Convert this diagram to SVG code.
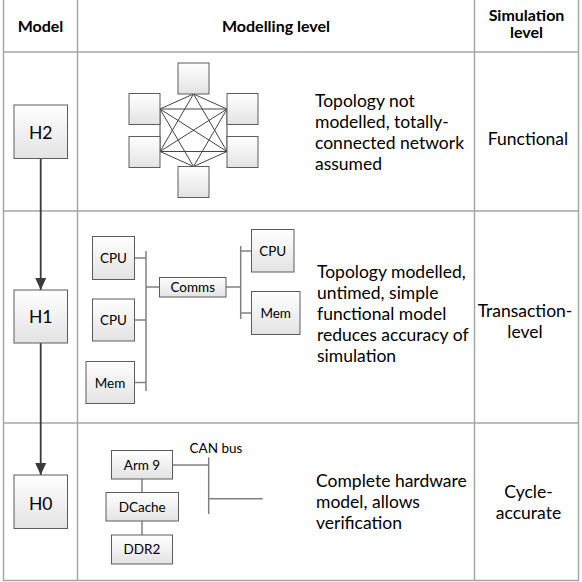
<svg xmlns="http://www.w3.org/2000/svg" width="582" height="582" viewBox="0 0 582 582">
  <defs>
    <linearGradient id="boxFill" x1="0" y1="0" x2="0" y2="1">
      <stop offset="0" stop-color="#ffffff"/>
      <stop offset="1" stop-color="#e3e3e3"/>
    </linearGradient>
    <marker id="arrow" viewBox="0 0 12 12" markerWidth="12" markerHeight="12" refX="12" refY="6" orient="auto" markerUnits="userSpaceOnUse">
      <path d="M0,0.5 L12,6 L0,11.5 z" fill="#3a3a3a"/>
    </marker>
    <style>
      .grid { stroke: #a6a6a6; stroke-width: 1.5; fill: none; }
      .box { fill: url(#boxFill); stroke: #5c5c5c; stroke-width: 1; }
      text { font-family: Lato, "Liberation Sans", sans-serif; fill: #000; }
      .hdr { font-weight: bold; font-size: 16px; text-anchor: middle; }
      .body { font-size: 17.5px; }
      .mid { text-anchor: middle; }
      .lbl { font-size: 13.5px; text-anchor: middle; }
      .big { font-size: 17.5px; text-anchor: middle; }
      .bus { stroke: #808080; stroke-width: 1.5; fill: none; }
      .mesh { stroke: #454545; stroke-width: 1; }
      .flow { stroke: #3a3a3a; stroke-width: 1.8; fill: none; marker-end: url(#arrow); }
    </style>
  </defs>

  <rect width="582" height="582" fill="#ffffff"/>

  <!-- table grid -->
  <g id="table">
    <line class="grid" x1="3.5" y1="0" x2="3.5" y2="580.5"/>
    <line class="grid" x1="77.5" y1="0" x2="77.5" y2="580.5"/>
    <line class="grid" x1="474.5" y1="0" x2="474.5" y2="580.5"/>
    <line class="grid" x1="578.5" y1="0" x2="578.5" y2="580.5"/>
    <line class="grid" x1="3.5" y1="52" x2="578.5" y2="52"/>
    <line class="grid" x1="3.5" y1="211" x2="578.5" y2="211"/>
    <line class="grid" x1="3.5" y1="423" x2="578.5" y2="423"/>
    <line class="grid" x1="3" y1="580.5" x2="579" y2="580.5" stroke="#8c8c8c"/>
  </g>

  <!-- column headings -->
  <g id="headings">
    <text class="hdr" x="40.5" y="31.5">Model</text>
    <text class="hdr" x="276" y="31.5">Modelling level</text>
    <text class="hdr" x="526.5" y="20.5">Simulation</text>
    <text class="hdr" x="526.5" y="38">level</text>
  </g>

  <!-- connectors -->
  <g id="connectors">
    <!-- model refinement arrows -->
    <line class="flow" x1="40.7" y1="158.5" x2="40.7" y2="290"/>
    <line class="flow" x1="40.7" y1="343" x2="40.7" y2="475"/>

    <!-- fully connected mesh -->
    <g class="mesh">
      <line x1="193.5" y1="94" x2="160" y2="109"/>
      <line x1="193.5" y1="94" x2="227" y2="109"/>
      <line x1="193.5" y1="94" x2="160" y2="151.5"/>
      <line x1="193.5" y1="94" x2="227" y2="151.5"/>
      <line x1="160" y1="109" x2="227" y2="109"/>
      <line x1="160" y1="109" x2="227" y2="151.5"/>
      <line x1="160" y1="109" x2="193.5" y2="166.5"/>
      <line x1="160" y1="109" x2="160" y2="151.5"/>
      <line x1="227" y1="109" x2="160" y2="151.5"/>
      <line x1="227" y1="109" x2="193.5" y2="166.5"/>
      <line x1="227" y1="109" x2="227" y2="151.5"/>
      <line x1="160" y1="151.5" x2="227" y2="151.5"/>
      <line x1="160" y1="151.5" x2="193.5" y2="166.5"/>
      <line x1="227" y1="151.5" x2="193.5" y2="166.5"/>
    </g>

    <!-- transaction-level buses -->
    <g class="bus">
      <line x1="146" y1="251" x2="146" y2="391"/>
      <line x1="134.5" y1="258" x2="146" y2="258"/>
      <line x1="134.5" y1="320" x2="146" y2="320"/>
      <line x1="134.5" y1="382.5" x2="146" y2="382.5"/>
      <line x1="146" y1="287" x2="159.5" y2="287"/>
      <line x1="226" y1="287" x2="240.7" y2="287"/>
      <line x1="240.7" y1="246" x2="240.7" y2="319"/>
      <line x1="240.7" y1="251" x2="251.5" y2="251"/>
      <line x1="240.7" y1="313" x2="251.5" y2="313"/>
    </g>

    <!-- cycle-accurate platform -->
    <g class="bus">
      <line x1="142" y1="479" x2="142" y2="492.5"/>
      <line x1="142" y1="521" x2="142" y2="535"/>
      <line x1="172.5" y1="465" x2="208.7" y2="465"/>
      <line x1="208.7" y1="457.3" x2="208.7" y2="514"/>
      <line x1="208.7" y1="498.7" x2="262.7" y2="498.7"/>
    </g>
  </g>

  <!-- model nodes -->
  <g id="H2">
    <rect class="box" x="14" y="105" width="53.5" height="53.5"/>
    <text class="big" x="40.7" y="138.5">H2</text>
  </g>
  <g id="H1">
    <rect class="box" x="14" y="290" width="53.5" height="53"/>
    <text class="big" x="40.7" y="323">H1</text>
  </g>
  <g id="H0">
    <rect class="box" x="14" y="475" width="53.5" height="53.5"/>
    <text class="big" x="40.7" y="510">H0</text>
  </g>

  <!-- H2: totally-connected network -->
  <g id="net-top"><rect class="box" x="178" y="63" width="31" height="31"/></g>
  <g id="net-ul"><rect class="box" x="129" y="93.5" width="31" height="31"/></g>
  <g id="net-ur"><rect class="box" x="227" y="93.5" width="31" height="31"/></g>
  <g id="net-ll"><rect class="box" x="129" y="136.5" width="31" height="31"/></g>
  <g id="net-lr"><rect class="box" x="227" y="136.5" width="31" height="31"/></g>
  <g id="net-bottom"><rect class="box" x="178" y="166.5" width="31" height="31"/></g>

  <!-- H1: transaction-level model -->
  <g id="cpu-a">
    <rect class="box" x="92.5" y="236.5" width="42" height="43"/>
    <text class="lbl" x="113.5" y="263">CPU</text>
  </g>
  <g id="cpu-b">
    <rect class="box" x="92.5" y="299" width="42" height="42"/>
    <text class="lbl" x="113.5" y="325">CPU</text>
  </g>
  <g id="mem-a">
    <rect class="box" x="86" y="361.5" width="48.5" height="42"/>
    <text class="lbl" x="110" y="387.5">Mem</text>
  </g>
  <g id="comms">
    <rect class="box" x="159.5" y="277.5" width="66.5" height="19.5"/>
    <text class="lbl" x="192.7" y="292">Comms</text>
  </g>
  <g id="cpu-c">
    <rect class="box" x="251.5" y="229.5" width="42.5" height="42.5"/>
    <text class="lbl" x="272.7" y="256">CPU</text>
  </g>
  <g id="mem-b">
    <rect class="box" x="251.5" y="291.5" width="48.5" height="43"/>
    <text class="lbl" x="275.7" y="318">Mem</text>
  </g>

  <!-- H0: cycle-accurate platform -->
  <g id="arm9">
    <rect class="box" x="111.5" y="450.5" width="61" height="28.5"/>
    <text class="lbl" x="142" y="469.5">Arm 9</text>
  </g>
  <g id="dcache">
    <rect class="box" x="106" y="492.5" width="72.5" height="28.5"/>
    <text class="lbl" x="142.2" y="511.5">DCache</text>
  </g>
  <g id="ddr2">
    <rect class="box" x="111.5" y="535" width="61" height="29"/>
    <text class="lbl" x="142" y="554">DDR2</text>
  </g>
  <text class="lbl" x="216" y="453" id="can-bus">CAN bus</text>

  <!-- modelling descriptions -->
  <g id="desc">
    <text class="body" x="315" y="106.5">Topology not</text>
    <text class="body" x="315" y="127.5">modelled, totally-</text>
    <text class="body" x="315" y="148.5">connected network</text>
    <text class="body" x="315" y="169.5">assumed</text>

    <text class="body" x="317" y="278">Topology modelled,</text>
    <text class="body" x="317" y="299">untimed, simple</text>
    <text class="body" x="317" y="320">functional model</text>
    <text class="body" x="317" y="341">reduces accuracy of</text>
    <text class="body" x="317" y="362">simulation</text>

    <text class="body" x="316" y="486.5">Complete hardware</text>
    <text class="body" x="316" y="507.5">model, allows</text>
    <text class="body" x="316" y="528.5">verification</text>
  </g>

  <!-- simulation levels -->
  <g id="sim">
    <text class="body mid" x="528" y="145">Functional</text>
    <text class="body mid" x="525" y="317">Transaction-</text>
    <text class="body mid" x="525" y="338">level</text>
    <text class="body mid" x="528.5" y="498">Cycle-</text>
    <text class="body mid" x="528.5" y="519">accurate</text>
  </g>
</svg>
